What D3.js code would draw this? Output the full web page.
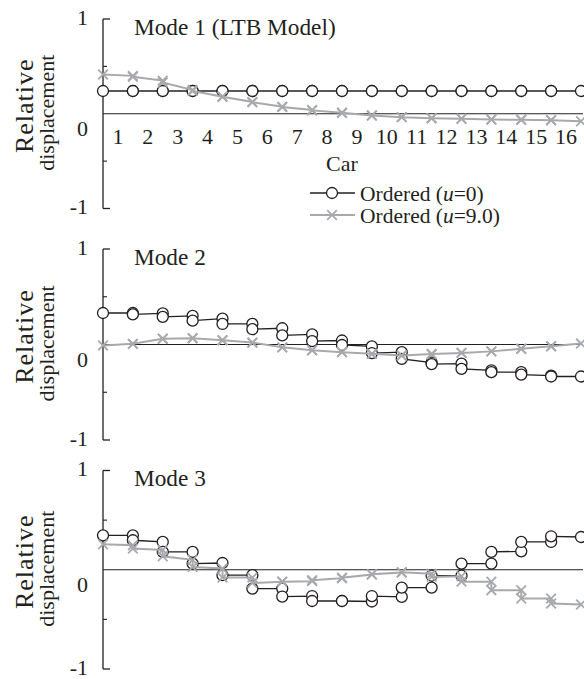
<!DOCTYPE html>
<html>
<head>
  <meta charset="UTF-8" />
  <script src="https://d3js.org/d3.v7.min.js"></script>
  <style>
    body { margin: 0; background: #fff; }
    svg { display: block; }
    text { font-family: "Liberation Serif", "Times New Roman", serif; fill: #231f20; }
  </style>
</head>
<body>
  <svg id="chart" width="584" height="679"></svg>
  <script>
    // car numbers along the train, tick labels
    const carLabels = d3.range(1, 17).map(String);
    const yTickValues = [1, 0, -1];
    const yTickLabels = ["1", "0", "-1"];
    const yMinorTicks = [0.5, -0.5];
    const modeTitles = ["Mode 1 (LTB Model)", "Mode 2", "Mode 3"];
    const seriesNames = ["Ordered (u=0)", "Ordered (u=9.0)"];

    // each car: [displacement at front end, displacement at rear end]
    const mode1Ordered0 = d3.range(16).map(() => [0.24, 0.24]);
    const mode1Ordered9 = [
      [0.414, 0.40], [0.39, 0.35], [0.33, 0.25], [0.24, 0.18], [0.18, 0.125], [0.12, 0.075],
      [0.07, 0.04], [0.035, 0.01], [0.01, -0.018], [-0.018, -0.036], [-0.036, -0.047],
      [-0.047, -0.053], [-0.053, -0.061], [-0.061, -0.064], [-0.064, -0.068], [-0.068, -0.079]
    ];
    const mode2Ordered0 = [
      [0.33, 0.33], [0.315, 0.325], [0.29, 0.30], [0.25, 0.27], [0.215, 0.215], [0.16, 0.17],
      [0.095, 0.105], [0.035, 0.042], [-0.005, -0.02], [-0.09, -0.08], [-0.15, -0.19],
      [-0.205, -0.2], [-0.255, -0.27], [-0.29, -0.29], [-0.315, -0.325], [-0.335, -0.335]
    ];
    const mode2Ordered9 = [
      [-0.01, 0.007], [0.007, 0.06], [0.06, 0.066], [0.066, 0.045], [0.045, 0.02], [0.02, -0.03],
      [-0.03, -0.06], [-0.06, -0.08], [-0.08, -0.098], [-0.098, -0.115], [-0.115, -0.1],
      [-0.1, -0.088], [-0.088, -0.072], [-0.072, -0.045], [-0.045, -0.018], [-0.018, 0.01]
    ];
    const mode3Ordered0 = [
      [0.347, 0.347], [0.297, 0.28], [0.18, 0.18], [0.062, 0.068], [-0.055, -0.055], [-0.19, -0.19],
      [-0.27, -0.265], [-0.315, -0.315], [-0.315, -0.32], [-0.265, -0.274], [-0.18, -0.18],
      [-0.06, -0.06], [0.062, 0.062], [0.18, 0.186], [0.28, 0.28], [0.337, 0.33]
    ];
    const mode3Ordered9 = [
      [0.257, 0.247], [0.213, 0.2], [0.136, 0.1], [0.028, 0.012], [-0.079, -0.079], [-0.133, -0.12],
      [-0.12, -0.115], [-0.105, -0.085], [-0.08, -0.048], [-0.045, -0.028], [-0.025, -0.04],
      [-0.072, -0.065], [-0.12, -0.12], [-0.206, -0.206], [-0.29, -0.29], [-0.34, -0.35]
    ];

    const modes = [
      [mode1Ordered0, mode1Ordered9],
      [mode2Ordered0, mode2Ordered9],
      [mode3Ordered0, mode3Ordered9]
    ];

    const svg = d3.select("#chart");
    const dark = "#231f20", grey = "#a7a9ac";

    // panel vertical extents (y = 1 .. y = -1)
    const panels = [
      { top: 19, bottom: 208.5 },
      { top: 249, bottom: 440 },
      { top: 470.5, bottom: 669 }
    ];

    const x = d3.scaleLinear().domain([0, 16]).range([103, 581]);

    // turns car pairs into a polyline of points along the coupler positions
    function toPoints(cars) {
      const pts = [];
      cars.forEach((c, i) => {
        pts.push([i, c[0]]);
        pts.push([i + 1, c[1]]);
      });
      return pts;
    }

    const crossPath = d3.symbol(d3.symbolX, 62)();

    panels.forEach((p, pi) => {
      const y = d3.scaleLinear().domain([-1, 1]).range([p.bottom, p.top]);
      const g = svg.append("g");

      // y axis bracket
      g.append("line")
        .attr("x1", x(0)).attr("x2", x(0))
        .attr("y1", y(1)).attr("y2", y(-1))
        .attr("stroke", dark).attr("stroke-width", 1.3);
      g.selectAll(".major").data([1, -1]).join("line")
        .attr("x1", x(0)).attr("x2", x(0) + 7)
        .attr("y1", d => y(d)).attr("y2", d => y(d))
        .attr("stroke", dark).attr("stroke-width", 1.3);
      g.selectAll(".minor").data(yMinorTicks).join("line")
        .attr("x1", x(0)).attr("x2", x(0) + 4)
        .attr("y1", d => y(d)).attr("y2", d => y(d))
        .attr("stroke", dark).attr("stroke-width", 1.1);

      g.selectAll(".ylab").data(yTickValues).join("text")
        .attr("x", 88)
        .attr("y", d => d === 0 ? y(0) + 22 : y(d) + 5.5)
        .attr("text-anchor", "end")
        .attr("font-size", 22)
        .text((d, i) => yTickLabels[i]);

      // y title
      const yc = y(0);
      g.append("text")
        .attr("transform", `translate(33,${yc - 8}) rotate(-90)`)
        .attr("text-anchor", "middle").attr("font-size", 26)
        .attr("letter-spacing", 1)
        .text("Relative");
      g.append("text")
        .attr("transform", `translate(54,${yc - 1}) rotate(-90)`)
        .attr("text-anchor", "middle").attr("font-size", 22)
        .text("displacement");

      // zero line
      g.append("line")
        .attr("x1", x(0)).attr("x2", 583)
        .attr("y1", y(0)).attr("y2", y(0))
        .attr("stroke", dark).attr("stroke-width", 1.1);

      g.append("text")
        .attr("x", 134).attr("y", p.top + 15.5)
        .attr("font-size", 23.3)
        .text(modeTitles[pi]);

      const line = d3.line().x(d => x(d[0])).y(d => y(d[1]));
      const [black, light] = modes[pi];

      const bp = toPoints(black);
      g.append("path").datum(bp).attr("d", line)
        .attr("fill", "none").attr("stroke", dark).attr("stroke-width", 1.3);
      g.selectAll(".circ").data(bp).join("circle")
        .attr("cx", d => x(d[0])).attr("cy", d => y(d[1])).attr("r", 5.5)
        .attr("fill", "#fff").attr("stroke", dark).attr("stroke-width", 1.3);

      const gp = toPoints(light);
      g.append("path").datum(gp).attr("d", line)
        .attr("fill", "none").attr("stroke", grey).attr("stroke-width", 2);
      g.selectAll(".cross").data(gp).join("path")
        .attr("d", crossPath)
        .attr("transform", d => `translate(${x(d[0])},${y(d[1])})`)
        .attr("fill", "none").attr("stroke", grey).attr("stroke-width", 1.8);

      if (pi === 0) {
        g.selectAll(".carlab").data(carLabels).join("text")
          .attr("x", (d, i) => x(i + 0.5))
          .attr("y", y(0) + 30)
          .attr("text-anchor", "middle").attr("font-size", 22)
          .text(d => d);
        g.append("text")
          .attr("x", x(8)).attr("y", 171)
          .attr("text-anchor", "middle").attr("font-size", 22)
          .text("Car");

        // legend
        const leg = g.append("g");
        const rows = [193, 215];
        rows.forEach((ry, ri) => {
          const col = ri === 0 ? dark : grey;
          leg.append("line")
            .attr("x1", 310).attr("x2", 355).attr("y1", ry).attr("y2", ry)
            .attr("stroke", col).attr("stroke-width", ri === 0 ? 1.3 : 2);
          if (ri === 0) {
            leg.append("circle").attr("cx", 332).attr("cy", ry).attr("r", 5.5)
              .attr("fill", "#fff").attr("stroke", dark).attr("stroke-width", 1.3);
          } else {
            leg.append("path").attr("d", crossPath)
              .attr("transform", `translate(332,${ry})`)
              .attr("fill", "none").attr("stroke", grey).attr("stroke-width", 1.8);
          }
          const parts = seriesNames[ri].match(/^(.*\()u(=.*)$/);
          const t = leg.append("text").attr("x", 360).attr("y", ry + 7.5).attr("font-size", 21.5);
          t.append("tspan").text(parts[1]);
          t.append("tspan").attr("font-style", "italic").text("u");
          t.append("tspan").text(parts[2]);
        });
      }
    });
  </script>
</body>
</html>
